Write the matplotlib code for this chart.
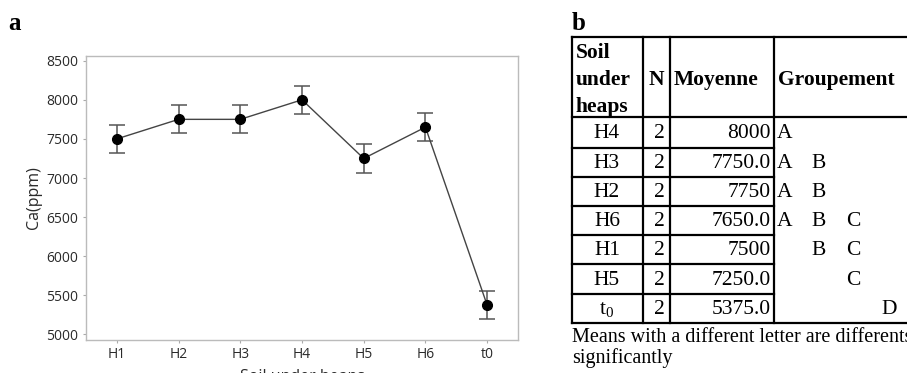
import matplotlib as mpl
mpl.use('Agg')
import matplotlib.pyplot as plt

# panel a data
soils = ['H1', 'H2', 'H3', 'H4', 'H5', 'H6', 't0']
ca_mean = [7500, 7750, 7750, 8000, 7250, 7650, 5375]
ca_err = [180, 180, 180, 180, 180, 180, 180]

# panel b table (Tukey grouping)
tab_soil = ['H4', 'H3', 'H2', 'H6', 'H1', 'H5', r'$\mathregular{t_0}$']
tab_n = [2, 2, 2, 2, 2, 2, 2]
tab_mean = ['8000', '7750.0', '7750', '7650.0', '7500', '7250.0', '5375.0']
tab_group = [['A'], ['A', 'B'], ['A', 'B'], ['A', 'B', 'C'], ['B', 'C'], ['C'], ['D']]
letters = ['A', 'B', 'C', 'D']

W, H = 907, 373
fig = plt.figure(figsize=(W / 100, H / 100), dpi=100)

# ---- panel a ----
ax = fig.add_axes([86 / W, 1 - 339.5 / H, 432 / W, 283.5 / H])
x = list(range(len(soils)))
ax.errorbar(x, ca_mean, yerr=ca_err, fmt='none', ecolor='#555555',
            elinewidth=1.1, capsize=6, capthick=1.1, zorder=2)
ax.plot(x, ca_mean, '-', color='#444444', lw=1.0, zorder=3)
ax.plot(x, ca_mean, 'o', color='black', ms=7, zorder=4)
ax.set_xlim(-0.5, 6.5)
ax.set_ylim(4935, 8560)
ax.set_yticks([5000, 5500, 6000, 6500, 7000, 7500, 8000, 8500])
ax.set_xticks(x)
ax.set_xticklabels(soils)
for s in ax.spines.values():
    s.set_color('#bbbbbb')
    s.set_linewidth(1.0)
ax.tick_params(colors='#aaaaaa', labelcolor='#2a2a2a', labelsize=10, length=2.5,
               width=0.8, pad=3)
for lab in ax.get_xticklabels() + ax.get_yticklabels():
    lab.set_family('Open Sans')
ax.set_ylabel('Ca(ppm)', fontsize=11.5, family='Open Sans', color='#2a2a2a', labelpad=3)
# the x label sits partly below the bottom edge, as in the source figure
ax.set_xlabel('Soil under heaps', fontsize=11.5, family='Open Sans', color='#2a2a2a',
              labelpad=5)

fig.text(8 / W, 1 - 23 / H, 'a', fontsize=18, fontweight='bold',
         family='Liberation Serif', va='center', ha='left')
fig.text(572 / W, 1 - 23 / H, 'b', fontsize=18, fontweight='bold',
         family='Liberation Serif', va='center', ha='left')

# ---- panel b: table drawn in pixel coords ----
tb = fig.add_axes([0, 0, 1, 1])
tb.set_xlim(0, W)
tb.set_ylim(H, 0)
tb.axis('off')

cols = [571.7, 642.7, 670, 774.3, 912]
row_y = [37.3, 117.3, 147.7, 176.7, 206, 235.3, 264.3, 294, 322.7]
lw = 1.6
tb.plot([cols[0], cols[-1]], [row_y[0]] * 2, color='black', lw=lw)
tb.plot([cols[0], cols[-1]], [row_y[1]] * 2, color='black', lw=lw)
tb.plot([cols[0], cols[-1]], [row_y[-1]] * 2, color='black', lw=lw)
for yy in row_y[2:-1]:
    tb.plot([cols[0], cols[3]], [yy, yy], color='black', lw=lw)
for xx in cols[:4]:
    tb.plot([xx, xx], [row_y[0], row_y[-1]], color='black', lw=lw)

fs = 15.5
serif = 'Liberation Serif'
for i, t in enumerate(['Soil', 'under', 'heaps']):
    tb.text(576, 53 + i * 27, t, fontsize=fs, fontweight='bold', family=serif,
            ha='left', va='center')
tb.text(656.5, 80, 'N', fontsize=fs, fontweight='bold', family=serif,
        ha='center', va='center')
tb.text(674, 80, 'Moyenne', fontsize=fs, fontweight='bold', family=serif,
        ha='left', va='center')
tb.text(778, 80, 'Groupement', fontsize=fs, fontweight='bold', family=serif,
        ha='left', va='center')

for r in range(len(tab_soil)):
    yc = (row_y[r + 1] + row_y[r + 2]) / 2 + 1
    tb.text(607, yc, tab_soil[r], fontsize=fs, family=serif, ha='center', va='center')
    tb.text(665, yc, str(tab_n[r]), fontsize=fs, family=serif, ha='right', va='center')
    tb.text(771, yc, tab_mean[r], fontsize=fs, family=serif, ha='right', va='center')
    for g in tab_group[r]:
        tb.text(777 + 34.8 * letters.index(g), yc, g, fontsize=fs, family=serif,
                ha='left', va='center')

tb.text(571.7, 337, 'Means with a different letter are differents', fontsize=14.5,
        family=serif, ha='left', va='center')
tb.text(571.7, 358, 'significantly', fontsize=14.5, family=serif, ha='left', va='center')

fig.savefig('out.png', dpi=100)
